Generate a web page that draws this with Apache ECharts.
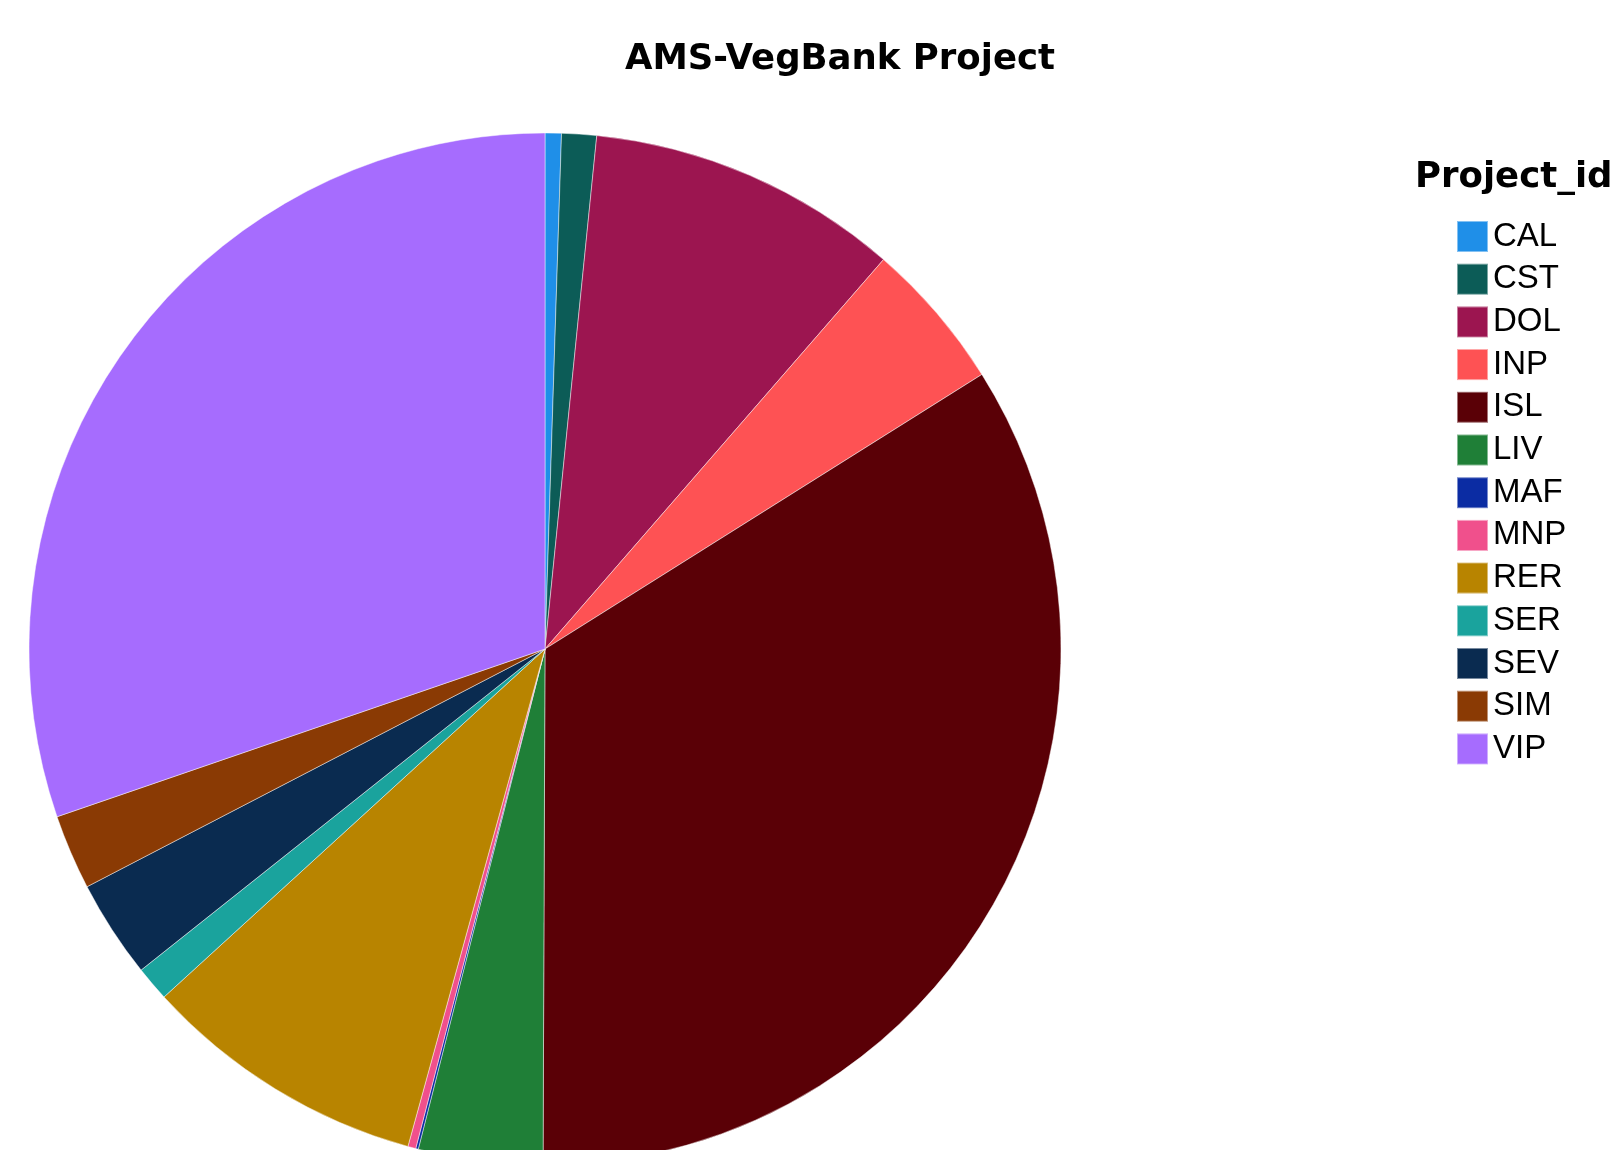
<!DOCTYPE html>
<html>
<head>
<meta charset="utf-8">
<script src="https://cdn.jsdelivr.net/npm/echarts@6/dist/echarts.min.js"></script>
<style>
html,body{margin:0;padding:0;background:#fff;}
#chart{width:1614px;height:1150px;}
</style>
</head>
<body>
<div id="chart"></div>
<script>
const categories = ['CAL','CST','DOL','INP','ISL','LIV','MAF','MNP','RER','SER','SEV','SIM','VIP'];
const values = [0.51, 1.09, 9.79, 4.68, 33.99, 3.89, 0.08, 0.25, 8.94, 1.09, 3.07, 2.35, 30.27];
const colors = ['#1f8fe8','#0c5c57','#9c1550','#fe5254','#5a0006','#1f7f37','#0b2ca3','#f0508c','#b88400','#1aa39d','#0a2b50','#8a3a04','#a66cfe'];
const chartTitle = 'AMS-VegBank Project';
const legendTitle = 'Project_id';

const chart = echarts.init(document.getElementById('chart'), null, {renderer:'canvas'});
const option = {
  backgroundColor: '#ffffff',
  animation: false,
  color: colors,
  title: [
    {
      text: chartTitle,
      left: 625, top: 42, padding: 0,
      textStyle: {fontFamily: 'DejaVu Sans', fontWeight: 'bold', fontSize: 35.5, color: '#000'}
    },
    {
      text: legendTitle,
      left: 1415, top: 160, padding: 0,
      textStyle: {fontFamily: 'DejaVu Sans', fontWeight: 'bold', fontSize: 35.5, color: '#000'}
    }
  ],
  legend: {
    orient: 'vertical',
    left: 1456, top: 220, padding: 0,
    icon: 'rect',
    itemWidth: 31, itemHeight: 31, itemGap: 9.7,
    data: categories,
    textStyle: {fontFamily: 'Liberation Sans', fontSize: 33, color: '#000', lineHeight: 31}
  },
  series: [{
    type: 'pie',
    center: [545, 649],
    radius: 516,
    startAngle: 90,
    clockwise: true,
    avoidLabelOverlap: false,
    label: {show: false},
    labelLine: {show: false},
    emphasis: {disabled: true},
    itemStyle: {borderColor: 'rgba(255,255,255,0.45)', borderWidth: 1},
    data: categories.map((c, i) => ({name: c, value: values[i]}))
  }]
};
chart.setOption(option);
</script>
</body>
</html>
